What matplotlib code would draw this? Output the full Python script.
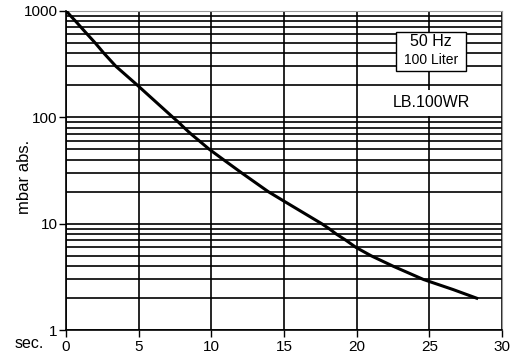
import matplotlib
matplotlib.use("Agg")
from matplotlib import pyplot as plt
from matplotlib.ticker import FixedLocator, LogLocator, NullFormatter

plt.rcParams["font.family"] = ["Liberation Sans", "DejaVu Sans"]

# pump-down curve
time_s = [0, 0.3, 0.65, 1.03, 1.47, 2.0, 2.6, 3.44, 4.91, 7.35, 7.73, 8.12,
          8.58, 9.17, 9.86, 10.83, 12.09, 13.92, 15.0, 17.6, 18.1, 18.6,
          19.26, 19.95, 21.0, 22.5, 24.59, 25.0, 26.64, 28.26]
pressure = [1000, 900, 800, 700, 600, 500, 400, 300, 200, 100, 90, 80,
            70, 60, 50, 40, 30, 20, 16.3, 10, 9, 8,
            7, 6, 5, 4, 3, 2.87, 2.41, 2.0]

x_ticks = [0, 5, 10, 15, 20, 25, 30]
y_ticks = [1, 10, 100, 1000]
y_labels = ["1", "10", "100", "1000"]

fig = plt.figure(figsize=(5.19, 3.58), dpi=100)
ax = fig.add_axes([0.1272, 0.0775, 0.8400, 0.8925])

ax.set_yscale("log")
ax.set_xlim(0, 30)
ax.set_ylim(1, 1000)

ax.plot(time_s, pressure, color="black", lw=2.2, solid_joinstyle="round", zorder=3)

ax.xaxis.set_major_locator(FixedLocator(x_ticks))
ax.set_xticklabels([str(t) for t in x_ticks], fontsize=11)
ax.yaxis.set_major_locator(FixedLocator(y_ticks))
ax.yaxis.set_minor_locator(LogLocator(base=10, subs=range(2, 10)))
ax.yaxis.set_minor_formatter(NullFormatter())
ax.set_yticklabels(y_labels, fontsize=11)

ax.tick_params(axis="both", which="major", direction="out", length=5, width=1, color="black")
ax.tick_params(axis="y", which="minor", length=0)
ax.tick_params(axis="x", pad=2)
ax.tick_params(axis="y", pad=1)

ax.grid(True, which="major", axis="x", color="black", lw=1.2)
ax.grid(True, which="both", axis="y", color="black", lw=1.2)
ax.set_axisbelow(True)

for side in ["top", "right"]:
    ax.spines[side].set_color("#999999")
for side in ["left", "bottom"]:
    ax.spines[side].set_color("black")
    ax.spines[side].set_linewidth(1.2)

fig.text(25 / 519, 1 - 177 / 358, "mbar abs.", fontsize=12, rotation=90,
         ha="center", va="center")
fig.text(15 / 519, 1 - 344 / 358, "sec.", fontsize=11.5, ha="left", va="center")

# info box
ax.text(0.837, 0.905, "50 Hz", transform=ax.transAxes, ha="center", va="center",
        fontsize=11.5, zorder=5)
ax.text(0.837, 0.845, "100 Liter", transform=ax.transAxes, ha="center", va="center",
        fontsize=10, zorder=5)
ax.add_patch(plt.Rectangle((0.757, 0.81), 0.161, 0.125, transform=ax.transAxes,
                           facecolor="white", edgecolor="black", lw=1, zorder=4))
ax.text(0.838, 0.712, "LB.100WR", transform=ax.transAxes, ha="center", va="center",
        fontsize=11.5, zorder=2.5,
        bbox=dict(facecolor="white", edgecolor="none", pad=4))

fig.savefig("out.png", dpi=100)
